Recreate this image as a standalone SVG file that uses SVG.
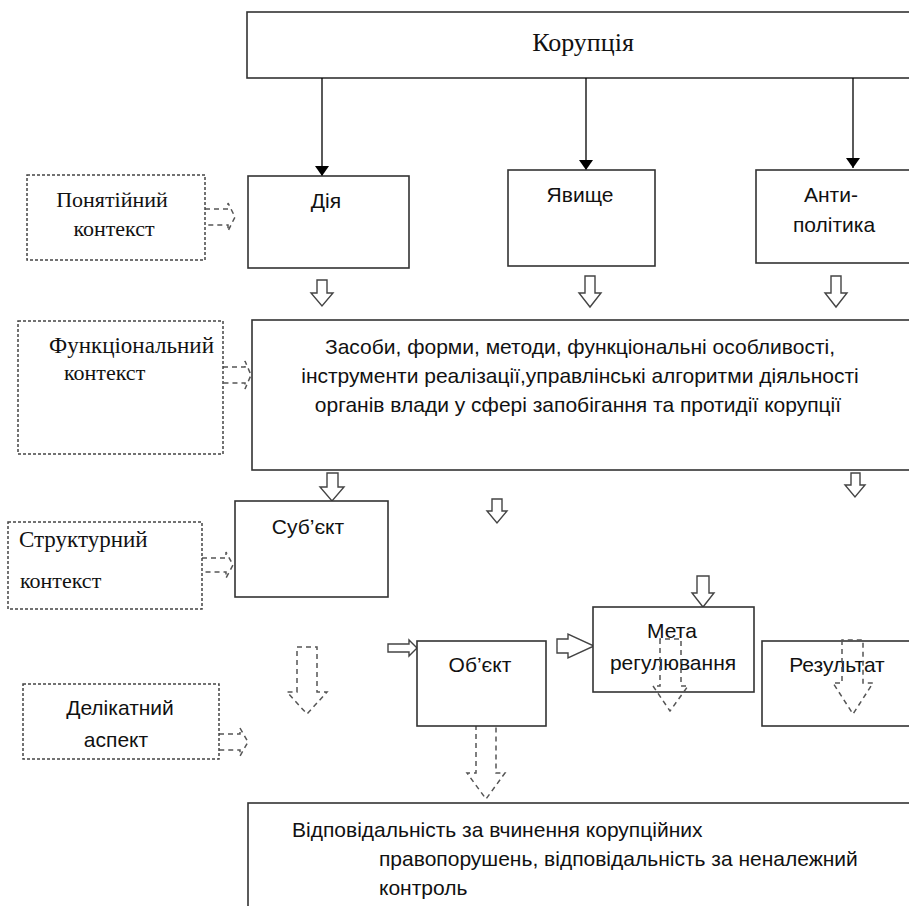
<svg xmlns="http://www.w3.org/2000/svg" width="909" height="906" viewBox="0 0 909 906">
<defs>
<marker id="ah" markerWidth="10" markerHeight="14" refX="10" refY="7" orient="auto" markerUnits="userSpaceOnUse">
<path d="M0,0 L10,7 L0,14 Z" fill="#000"/>
</marker>
<style>
.box{fill:#fff;stroke:#333;stroke-width:1.6}
.dbox{fill:#fff;stroke:#444;stroke-width:1.5;stroke-dasharray:3 2}
.serif{font-family:"Liberation Serif","Times New Roman",serif;font-size:22px;fill:#111}
.sans{font-family:"Liberation Sans",Arial,sans-serif;font-size:21px;fill:#111}
.line{stroke:#000;stroke-width:1.3;fill:none}
.hollow{fill:#fff;stroke:#444;stroke-width:1.4}
.darr{fill:none;stroke:#555;stroke-width:1.5;stroke-dasharray:5 4}
</style>
</defs>
<rect width="909" height="906" fill="#fff"/>

<g id="korupcia"><rect class="box" x="247" y="12" width="670" height="66"/><text class="serif" x="583" y="51" text-anchor="middle" style="font-size:26px">Корупція</text></g>

<g id="connectors">
<line class="line" x1="322" y1="78" x2="322" y2="176" marker-end="url(#ah)"/>
<line class="line" x1="586" y1="78" x2="586" y2="170" marker-end="url(#ah)"/>
<line class="line" x1="853" y1="78" x2="853" y2="168" marker-end="url(#ah)"/>
<path class="hollow" d="M317,280 L327,280 L327,293 L333,293 L322,306 L311,293 L317,293 Z"/>
<path class="hollow" d="M585,276 L595,276 L595,293 L601,293 L590,307 L579,293 L585,293 Z"/>
<path class="hollow" d="M831,276 L841,276 L841,293 L847,293 L836,307 L825,293 L831,293 Z"/>
<path class="hollow" d="M327,473 L338,473 L338,487 L344,487 L332,501 L320,487 L327,487 Z"/>
<path class="hollow" d="M492,499 L502,499 L502,511 L507,511 L497,523 L487,511 L492,511 Z"/>
<path class="hollow" d="M851,473 L860,473 L860,485 L865,485 L855,497 L845,485 L851,485 Z"/>
<path class="hollow" d="M697,576 L709,576 L709,593 L714,593 L703,607 L692,593 L697,593 Z"/>
<path class="hollow" d="M557,639 L568,639 L568,634 L594,646 L568,658 L568,653 L557,653 Z"/>
<path class="hollow" d="M388,644 L409,644 L409,640 L417,648 L409,656 L409,652 L388,652 Z"/>
<path class="darr" d="M205,209 L228,209 L228,203 L235,217 L228,231 L228,225 L205,225"/>
<path class="darr" d="M223,367 L245,367 L245,361 L251,375 L245,389 L245,383 L223,383"/>
<path class="darr" d="M202,558 L226,558 L226,552 L233,565 L226,578 L226,572 L202,572"/>
<path class="darr" d="M219,734 L240,734 L240,728 L248,742 L240,756 L240,750 L219,750"/>
<path class="darr" d="M297,692 L297,647 L317,647 L317,692 L327,692 L307,714 L287,692 Z"/>
<path class="darr" d="M476,725 L476,773 L467,773 L486,799 L505,773 L496,773 L496,725"/>
</g>

<g id="ponyatiynyi"><rect class="dbox" x="27" y="175" width="178" height="85"/><text class="serif" x="112" y="207" text-anchor="middle">Понятійний</text><text class="serif" x="114" y="236" text-anchor="middle">контекст</text></g>
<g id="diya"><rect class="box" x="248" y="176" width="161" height="92"/><text class="sans" x="326" y="208" text-anchor="middle">Дія</text></g>
<g id="yavyshche"><rect class="box" x="508" y="170" width="147" height="96"/><text class="sans" x="580" y="202" text-anchor="middle">Явище</text></g>
<g id="antypolityka"><rect class="box" x="756" y="170" width="160" height="93"/><text class="sans" x="831" y="202" text-anchor="middle">Анти-</text><text class="sans" x="834" y="232" text-anchor="middle">політика</text></g>

<g id="funktsionalnyi"><rect class="dbox" x="18" y="321" width="205" height="133"/><text class="serif" x="49" y="353" style="font-size:23px">Функціональний</text><text class="serif" x="64" y="380">контекст</text></g>
<g id="zasoby"><rect class="box" x="252" y="320" width="665" height="150"/>
<text class="sans" x="580" y="354" text-anchor="middle">Засоби, форми, методи, функціональні особливості,</text>
<text class="sans" x="580" y="383" text-anchor="middle">інструменти реалізації,управлінські алгоритми діяльності</text>
<text class="sans" x="578" y="412" text-anchor="middle">органів влади у сфері запобігання та протидії корупції</text></g>

<g id="strukturnyi"><rect class="dbox" x="8" y="522" width="194" height="87"/><text class="serif" x="19" y="547" style="font-size:23px">Структурний</text><text class="serif" x="20" y="588">контекст</text></g>
<g id="subiekt"><rect class="box" x="235" y="501" width="153" height="96"/><text class="sans" x="308" y="534" text-anchor="middle">Суб’єкт</text></g>

<g id="obiekt"><rect class="box" x="417" y="641" width="129" height="85"/><text class="sans" x="480" y="672" text-anchor="middle">Об’єкт</text></g>
<g id="meta"><rect class="box" x="593" y="607" width="161" height="85"/><text class="sans" x="672" y="638" text-anchor="middle">Мета</text><text class="sans" x="673" y="670" text-anchor="middle">регулювання</text></g>
<g id="rezultat"><rect class="box" x="762" y="641" width="155" height="85"/><text class="sans" x="837" y="672" text-anchor="middle">Результат</text></g>

<g id="dashed-overlays">
<path class="darr" d="M660,639 L660,686 L653,686 L670,711 L688,686 L681,686 L681,639 Z"/>
<path class="darr" d="M842,640 L842,683 L833,683 L853,714 L873,683 L863,683 L863,640 Z"/>
</g>

<g id="delikatnyi"><rect class="dbox" x="23" y="684" width="196" height="75"/><text class="sans" x="120" y="715" text-anchor="middle">Делікатний</text><text class="sans" x="116" y="747" text-anchor="middle">аспект</text></g>

<g id="vidpovidalnist"><rect class="box" x="248" y="803" width="669" height="110"/>
<text class="sans" x="292" y="837">Відповідальність за вчинення корупційних</text>
<text class="sans" x="379" y="866">правопорушень, відповідальність за неналежний</text>
<text class="sans" x="379" y="895">контроль</text></g>
</svg>
